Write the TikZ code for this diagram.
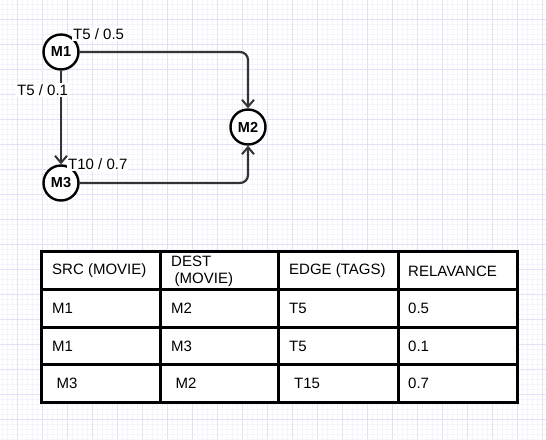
\documentclass[tikz,border=0pt]{standalone}
\usepackage{fontspec}
\setmainfont{Liberation Sans}
\usetikzlibrary{arrows.meta}
\definecolor{gridmin}{HTML}{F4F4FC}
\definecolor{gridmaj}{HTML}{E2E2F6}
\definecolor{edgec}{HTML}{333333}
\tikzset{
  movie/.style={circle, draw=black, line width=2.4pt, fill=white, minimum size=35pt, inner sep=0pt, font=\fontsize{14.5}{16}\selectfont\bfseries},
  elabel/.style={fill=white, inner sep=1pt, font=\fontsize{15}{17}\selectfont},
  conn/.style={draw=edgec, line width=2.2pt, rounded corners=8pt, -{Straight Barb[length=7pt,width=12pt,line width=2pt]}},
  cell/.style={anchor=west, inner sep=0pt, font=\fontsize{15}{17}\selectfont, align=left},
  tline/.style={line width=3pt, black},
}
\begin{document}
\begin{tikzpicture}[x=1pt,y=-1pt]
\useasboundingbox (0,0) rectangle (546,439);
\fill[white] (0,0) rectangle (546,439);
% grid
\foreach \i in {0,...,109} {
  \draw[gridmin, line width=0.6pt] ({2+5*\i},0) -- ({2+5*\i},439);
}
\foreach \i in {0,...,87} {
  \draw[gridmin, line width=0.6pt] (0,{4+5*\i}) -- (546,{4+5*\i});
}
\foreach \i in {0,...,21} {
  \draw[gridmaj, line width=0.8pt] ({17+25*\i},0) -- ({17+25*\i},439);
}
\foreach \i in {0,...,17} {
  \draw[gridmaj, line width=0.8pt] (0,{19+25*\i}) -- (546,{19+25*\i});
}
% graph
\node[movie] (M1) at (61,52) {M1};
\node[movie] (M2) at (248,127) {M2};
\node[movie] (M3) at (61,183) {M3};
\draw[conn] (M1.east) -| (M2.north);
\draw[conn] (M3.east) -| (M2.south);
\draw[conn] (M1.south) -- (M3.north);
\node[elabel, anchor=west] (l1) at (72,34) {T5 / 0.5};
\node[elabel, anchor=west] (l2) at (16,90) {T5 / 0.1};
\node[elabel, anchor=west] (l3) at (67,164) {T10 / 0.7};
% table
\fill[white] (41.5,251.5) rectangle (517,402);
\foreach \x in {160,278,398} { \draw[tline] (\x,251.5) -- (\x,402); }
\foreach \y in {289,327,364.5} { \draw[tline] (41.5,\y) -- (517,\y); }
\draw[tline] (41.5,251.5) rectangle (517,402);
\node[cell] (h1) at (52,271) {SRC (MOVIE)};
\node[cell, font=\fontsize{15}{16.5}\selectfont] (h2) at (171,271.5) {DEST\\\hspace{3.5pt}(MOVIE)};
\node[cell] (h3) at (289,271) {EDGE (TAGS)};
\node[cell] (h4) at (408,271) {RELAVANCE};
\node[cell] (a1) at (52,308) {M1};
\node[cell] (a2) at (171,308) {M2};
\node[cell] (a3) at (289,308) {T5};
\node[cell] (a4) at (408,308) {0.5};
\node[cell] (b1) at (52,346) {M1};
\node[cell] (b2) at (171,346) {M3};
\node[cell] (b3) at (289,346) {T5};
\node[cell] (b4) at (408,346) {0.1};
\node[cell] (c1) at (56.5,383) {M3};
\node[cell] (c2) at (175.5,383) {M2};
\node[cell] (c3) at (294,383) {T15};
\node[cell] (c4) at (408,383) {0.7};
\end{tikzpicture}
\end{document}
